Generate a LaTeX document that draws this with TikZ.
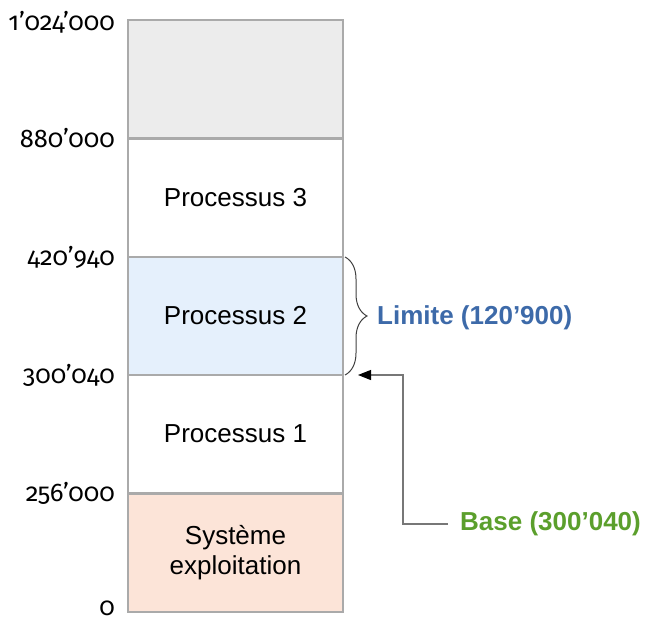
\documentclass[tikz,border=0pt]{standalone}
\usepackage{fontspec}
\setmainfont{Liberation Sans}
\newfontfamily\numfont[Numbers=OldStyle]{Fira Sans}
\usetikzlibrary{arrows.meta,decorations.pathreplacing,calc}
\definecolor{bordergray}{HTML}{AAAAAA}
\definecolor{topfill}{HTML}{ECECEC}
\definecolor{bluefill}{HTML}{E5F0FC}
\definecolor{osfill}{HTML}{FCE4D8}
\definecolor{limblue}{HTML}{3D6AA9}
\definecolor{basegreen}{HTML}{5B9F2C}
\definecolor{linegray}{HTML}{777777}
\tikzset{
  seg/.style={draw=bordergray, line width=1.2pt, minimum width=215pt, minimum height=118pt,
    inner sep=0pt, outer sep=0pt, align=center, font=\fontsize{26}{30}\selectfont},
  addr/.style={anchor=east, inner sep=0pt, font=\numfont\fontsize{25.5}{28}\selectfont},
  lbl/.style={anchor=west, inner sep=0pt, font=\bfseries\fontsize{26}{30}\selectfont},
}
\begin{document}
\begin{tikzpicture}[x=1pt,y=-1pt]
\useasboundingbox (0,0) rectangle (654,634);
\node[seg, fill=topfill] (p4) at (235.5,79) {};
\node[seg, fill=white] (p3) at (235.5,198) {Processus 3};
\node[seg, fill=bluefill] (p2) at (235.5,316) {Processus 2};
\node[seg, fill=white] (p1) at (235.5,434) {Processus 1};
\node[seg, fill=osfill] (os) at (235.5,553) {Système\\exploitation};
\draw[draw=bordergray, line width=1.2pt] (p4.north west) rectangle (os.south east);
\node[addr] (a0) at (115,22) {1’024’000};
\node[addr] (a1) at (115,138) {880’000};
\node[addr] (a2) at (115,257) {420’940};
\node[addr] (a3) at (115,375) {300’040};
\node[addr] (a4) at (115,493) {256’000};
\node[addr] (a5) at (115,608) {0};
\draw[black!75, line width=1pt, decorate, decoration={brace, amplitude=22pt, aspect=0.5}]
  ([xshift=2pt]p2.north east) -- ([xshift=2pt]p2.south east);
\node[lbl, text=limblue] (lim) at (377,318) {Limite (120’900)};
\node[lbl, text=basegreen] (base) at (460,524) {Base (300’040)};
\coordinate (tip) at ([xshift=15pt]p2.south east);
\draw[linegray, line width=1.1pt, -{Triangle[black,length=13pt,width=10pt]}]
  ([xshift=-12pt]base.west) -- ++(-45,0) |- (tip);
\end{tikzpicture}
\end{document}
